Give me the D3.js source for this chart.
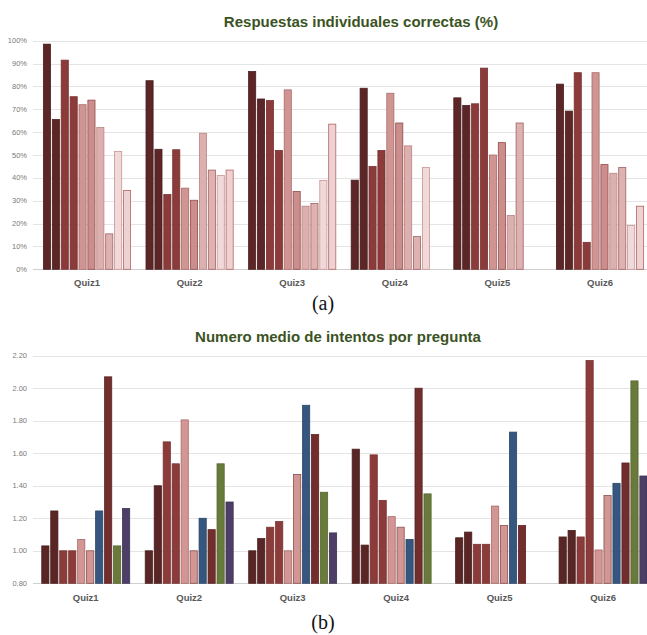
<!DOCTYPE html>
<html>
<head>
<meta charset="utf-8">
<script src="https://cdn.jsdelivr.net/npm/d3@7"></script>
<style>
  body { margin: 0; background: #fff; }
  svg text { font-family: "Liberation Sans", Arial, sans-serif; }
  .tick-label { fill: #7a7a7a; font-size: 7.5px; }
  .cat-label { fill: #595959; font-size: 9.5px; font-weight: bold; }
  .title { fill: #3b5323; font-size: 15px; font-weight: bold; }
</style>
</head>
<body>
<div id="chart"></div>
<script>
var quizzes = ['Quiz1', 'Quiz2', 'Quiz3', 'Quiz4', 'Quiz5', 'Quiz6'];

// (a) porcentaje de respuestas correctas, una fila por quiz
var correctas = [
    [98.5, 65.5, 91.5, 75.5, 72, 74, 62, 15.5, 51.5, 34.5],
    [82.5, 52.5, 32.7, 52.3, 35.5, 30.2, 59.5, 43.4, 41, 43.4],
    [86.5, 74.5, 73.8, 52, 78.5, 34, 27.6, 28.8, 38.9, 63.5],
    [39, 79.2, 45, 52, 77, 64, 54, 14.3, 44.5],
    [75, 71.7, 72.4, 88, 50, 55.4, 23.5, 64],
    [81, 69.2, 86, 11.8, 86, 45.8, 42, 44.5, 19.2, 27.6]
];
var correctasTicks = [0, 10, 20, 30, 40, 50, 60, 70, 80, 90, 100];

// (b) numero medio de intentos, una fila por quiz
var intentos = [
    [1.03, 1.245, 1.00, 1.00, 1.07, 1.00, 1.245, 2.07, 1.03, 1.26],
    [1.00, 1.40, 1.67, 1.535, 1.805, 1.00, 1.20, 1.13, 1.535, 1.30],
    [1.00, 1.075, 1.145, 1.18, 1.00, 1.47, 1.895, 1.715, 1.36, 1.11],
    [1.625, 1.035, 1.59, 1.31, 1.21, 1.145, 1.07, 2.00, 1.35],
    [1.08, 1.115, 1.04, 1.04, 1.275, 1.155, 1.73, 1.155],
    [1.085, 1.125, 1.085, 2.17, 1.005, 1.34, 1.415, 1.54, 2.045, 1.46]
];
var intentosTicks = [0.8, 1.0, 1.2, 1.4, 1.6, 1.8, 2.0, 2.2];

var colorsA = ['#5c2626', '#5c2626', '#8c3b3b', '#8c3b3b', '#d09593', '#cb8e8c', '#dcb0ae', '#ddb2b0', '#f2d9d9', '#ecd2d2'];
var strokesA = ['#4a1e1e', '#4a1e1e', '#7a3232', '#7a3232', '#a86a68', '#8f4a48', '#b98280', '#9e6260', '#c99393', '#b66462'];
var colorsB = ['#5a2525', '#5a2525', '#8b3c3a', '#8b3c3a', '#d29694', '#d29694', '#35567f', '#722d2d', '#687b3b', '#4c3e66'];
var strokesB = ['#4a1e1e', '#4a1e1e', '#763230', '#763230', '#a56a68', '#8a4d4b', '#2b4668', '#5e2424', '#56652f', '#3e3254'];

var width = 647, height = 635;

var svg = d3.select('#chart').append('svg')
    .attr('width', width)
    .attr('height', height);

function barChart(opts) {
    var g = svg.append('g');

    var x0 = d3.scaleBand()
        .domain(quizzes)
        .range(opts.xRange)
        .paddingInner(0.15)
        .paddingOuter(0.075);

    var x1 = d3.scaleBand()
        .domain(d3.range(10))
        .range([0, x0.bandwidth()])
        .paddingInner(0.2);

    var y = d3.scaleLinear()
        .domain(opts.yDomain)
        .range(opts.yRange);

    //  grid lines
    g.selectAll('line.grid')
        .data(opts.ticks)
        .enter().append('line')
        .attr('class', 'grid')
        .attr('x1', 33)
        .attr('x2', width)
        .attr('y1', function(d) { return Math.round(y(d)) + 0.5; })
        .attr('y2', function(d) { return Math.round(y(d)) + 0.5; })
        .attr('stroke', function(d, i) { return i === 0 ? '#cfcfcf' : '#e4e4e4'; })
        .attr('stroke-width', 1);

    g.selectAll('text.tick-label')
        .data(opts.ticks)
        .enter().append('text')
        .attr('class', 'tick-label')
        .attr('x', 27)
        .attr('y', function(d) { return y(d) + 2.5; })
        .attr('text-anchor', 'end')
        .text(opts.tickFormat);

    //  bars
    var group = g.selectAll('g.quiz')
        .data(opts.values)
        .enter().append('g')
        .attr('class', 'quiz')
        .attr('transform', function(d, i) { return 'translate(' + x0(quizzes[i]) + ',0)'; });

    group.selectAll('rect')
        .data(function(d) { return d; })
        .enter().append('rect')
        .attr('x', function(d, i) { return x1(i); })
        .attr('y', function(d) { return y(d); })
        .attr('width', x1.bandwidth())
        .attr('height', function(d) { return y(opts.yDomain[0]) - y(d); })
        .attr('fill', function(d, i) { return opts.colors[i]; })
        .attr('stroke', function(d, i) { return opts.strokes[i]; })
        .attr('stroke-width', 0.8);

    g.selectAll('text.cat-label')
        .data(quizzes)
        .enter().append('text')
        .attr('class', 'cat-label')
        .attr('x', function(d) { return x0(d) + x0.bandwidth() / 2; })
        .attr('y', opts.labelY)
        .attr('text-anchor', 'middle')
        .text(function(d) { return d; });

    g.append('text')
        .attr('class', 'title')
        .attr('x', opts.titleX)
        .attr('y', opts.titleY)
        .attr('text-anchor', 'middle')
        .text(opts.title);

    g.append('text')
        .attr('x', 323)
        .attr('y', opts.captionY)
        .attr('text-anchor', 'middle')
        .style('font-family', '"Liberation Serif", "Times New Roman", serif')
        .style('font-size', '20px')
        .style('fill', '#111')
        .text(opts.caption);
}

barChart({
    values: correctas,
    ticks: correctasTicks,
    tickFormat: function(d) { return d + '%'; },
    xRange: [35.7, 651.3],
    yDomain: [0, 100],
    yRange: [269.3, 40.7],
    colors: colorsA,
    strokes: strokesA,
    labelY: 286,
    title: 'Respuestas individuales correctas (%)',
    titleX: 361,
    titleY: 27,
    caption: '(a)',
    captionY: 310
});

barChart({
    values: intentos,
    ticks: intentosTicks,
    tickFormat: d3.format('.2f'),
    xRange: [34, 654.8],
    yDomain: [0.8, 2.2],
    yRange: [583.3, 355.7],
    colors: colorsB,
    strokes: strokesB,
    labelY: 601,
    title: 'Numero medio de intentos por pregunta',
    titleX: 338,
    titleY: 342,
    caption: '(b)',
    captionY: 629
});
</script>
</body>
</html>
